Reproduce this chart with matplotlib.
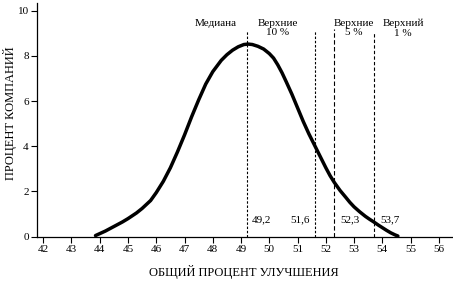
import matplotlib
matplotlib.use("Agg")
import matplotlib.pyplot as plt

# curve
improve = [43.85, 44.2, 44.5, 44.8, 45.0, 45.3, 45.5, 45.8, 46.0, 46.25, 46.5,
           46.75, 47.0, 47.25, 47.5, 47.75, 48.0, 48.3, 48.5, 48.7, 48.9,
           49.1, 49.25, 49.4, 49.6, 49.8, 50.0, 50.15, 50.3, 50.45, 50.6,
           50.8, 51.0, 51.2, 51.4, 51.6, 51.8, 52.0, 52.15, 52.3, 52.5,
           52.7, 52.85, 53.0, 53.2, 53.4, 53.55, 53.7, 53.85, 54.0, 54.15,
           54.3, 54.45, 54.55]
share = [0.05, 0.25, 0.45, 0.65, 0.8, 1.05, 1.25, 1.6, 1.95, 2.45, 3.05,
         3.75, 4.5, 5.3, 6.05, 6.75, 7.3, 7.8, 8.05, 8.25, 8.4,
         8.5, 8.52, 8.5, 8.42, 8.3, 8.1, 7.9, 7.6, 7.25, 6.85,
         6.3, 5.7, 5.1, 4.55, 4.05, 3.55, 3.05, 2.7, 2.4, 2.05,
         1.75, 1.52, 1.32, 1.1, 0.9, 0.77, 0.65, 0.52, 0.4, 0.28,
         0.17, 0.08, 0.03]

cutoffs = [49.2, 51.6, 52.3, 53.7]
cutoff_labels = ["49,2", "51,6", "52,3", "53,7"]
group_labels = ["Медиана", "Верхние\n10 %", "Верхние\n5 %", "Верхний\n1 %"]
xticks = list(range(42, 57))
yticks = [0, 2, 4, 6, 8, 10]

plt.rcParams["font.family"] = ["Liberation Serif", "DejaVu Serif"]

fig = plt.figure(figsize=(4.53, 2.83), dpi=100)
ax = fig.add_axes([37 / 453, 1 - 236.7 / 283, 416 / 453, 234 / 283])

ax.plot(improve, share, color="black", lw=2.5, solid_capstyle="round",
        solid_joinstyle="round")

dash_styles = [(0, (2.2, 1.6)), (0, (2.2, 1.6)), (0, (4, 2.2)), (0, (3, 2))]
tops = [9.1, 9.1, 9.2, 9.0]
for x, top, ls in zip(cutoffs, tops, dash_styles):
    ax.plot([x, x], [0, top], color="black", lw=0.8, linestyle=ls)

num_x = [49.73, 51.09, 52.87, 54.28]
for x, t in zip(num_x, cutoff_labels):
    ax.text(x, 0.75, t, ha="center", va="center", fontsize=8)

grp_x = [48.85, 50.29, 53.0, 54.74]
grp_ha = ["right", "center", "center", "center"]
for x, t, ha in zip(grp_x, group_labels, grp_ha):
    ax.text(x, 9.65, t, ha=ha, va="top", fontsize=8, linespacing=1.1)

ax.set_xlim(41.78, 56.5)
ax.set_ylim(0, 10.35)
ax.set_xticks(xticks)
ax.set_yticks(yticks)
ax.tick_params(labelsize=8, length=4, width=0.8, direction="out", pad=2)
ax.spines["top"].set_visible(False)
ax.spines["right"].set_visible(False)
for s in ["left", "bottom"]:
    ax.spines[s].set_linewidth(0.9)

fig.text(244 / 453, 1 - 272 / 283, "ОБЩИЙ ПРОЦЕНТ УЛУЧШЕНИЯ",
         ha="center", va="center", fontsize=9)
fig.text(10 / 453, 1 - 113 / 283, "ПРОЦЕНТ КОМПАНИЙ",
         ha="center", va="center", rotation=90, fontsize=9)

fig.savefig("out.png", dpi=100)
